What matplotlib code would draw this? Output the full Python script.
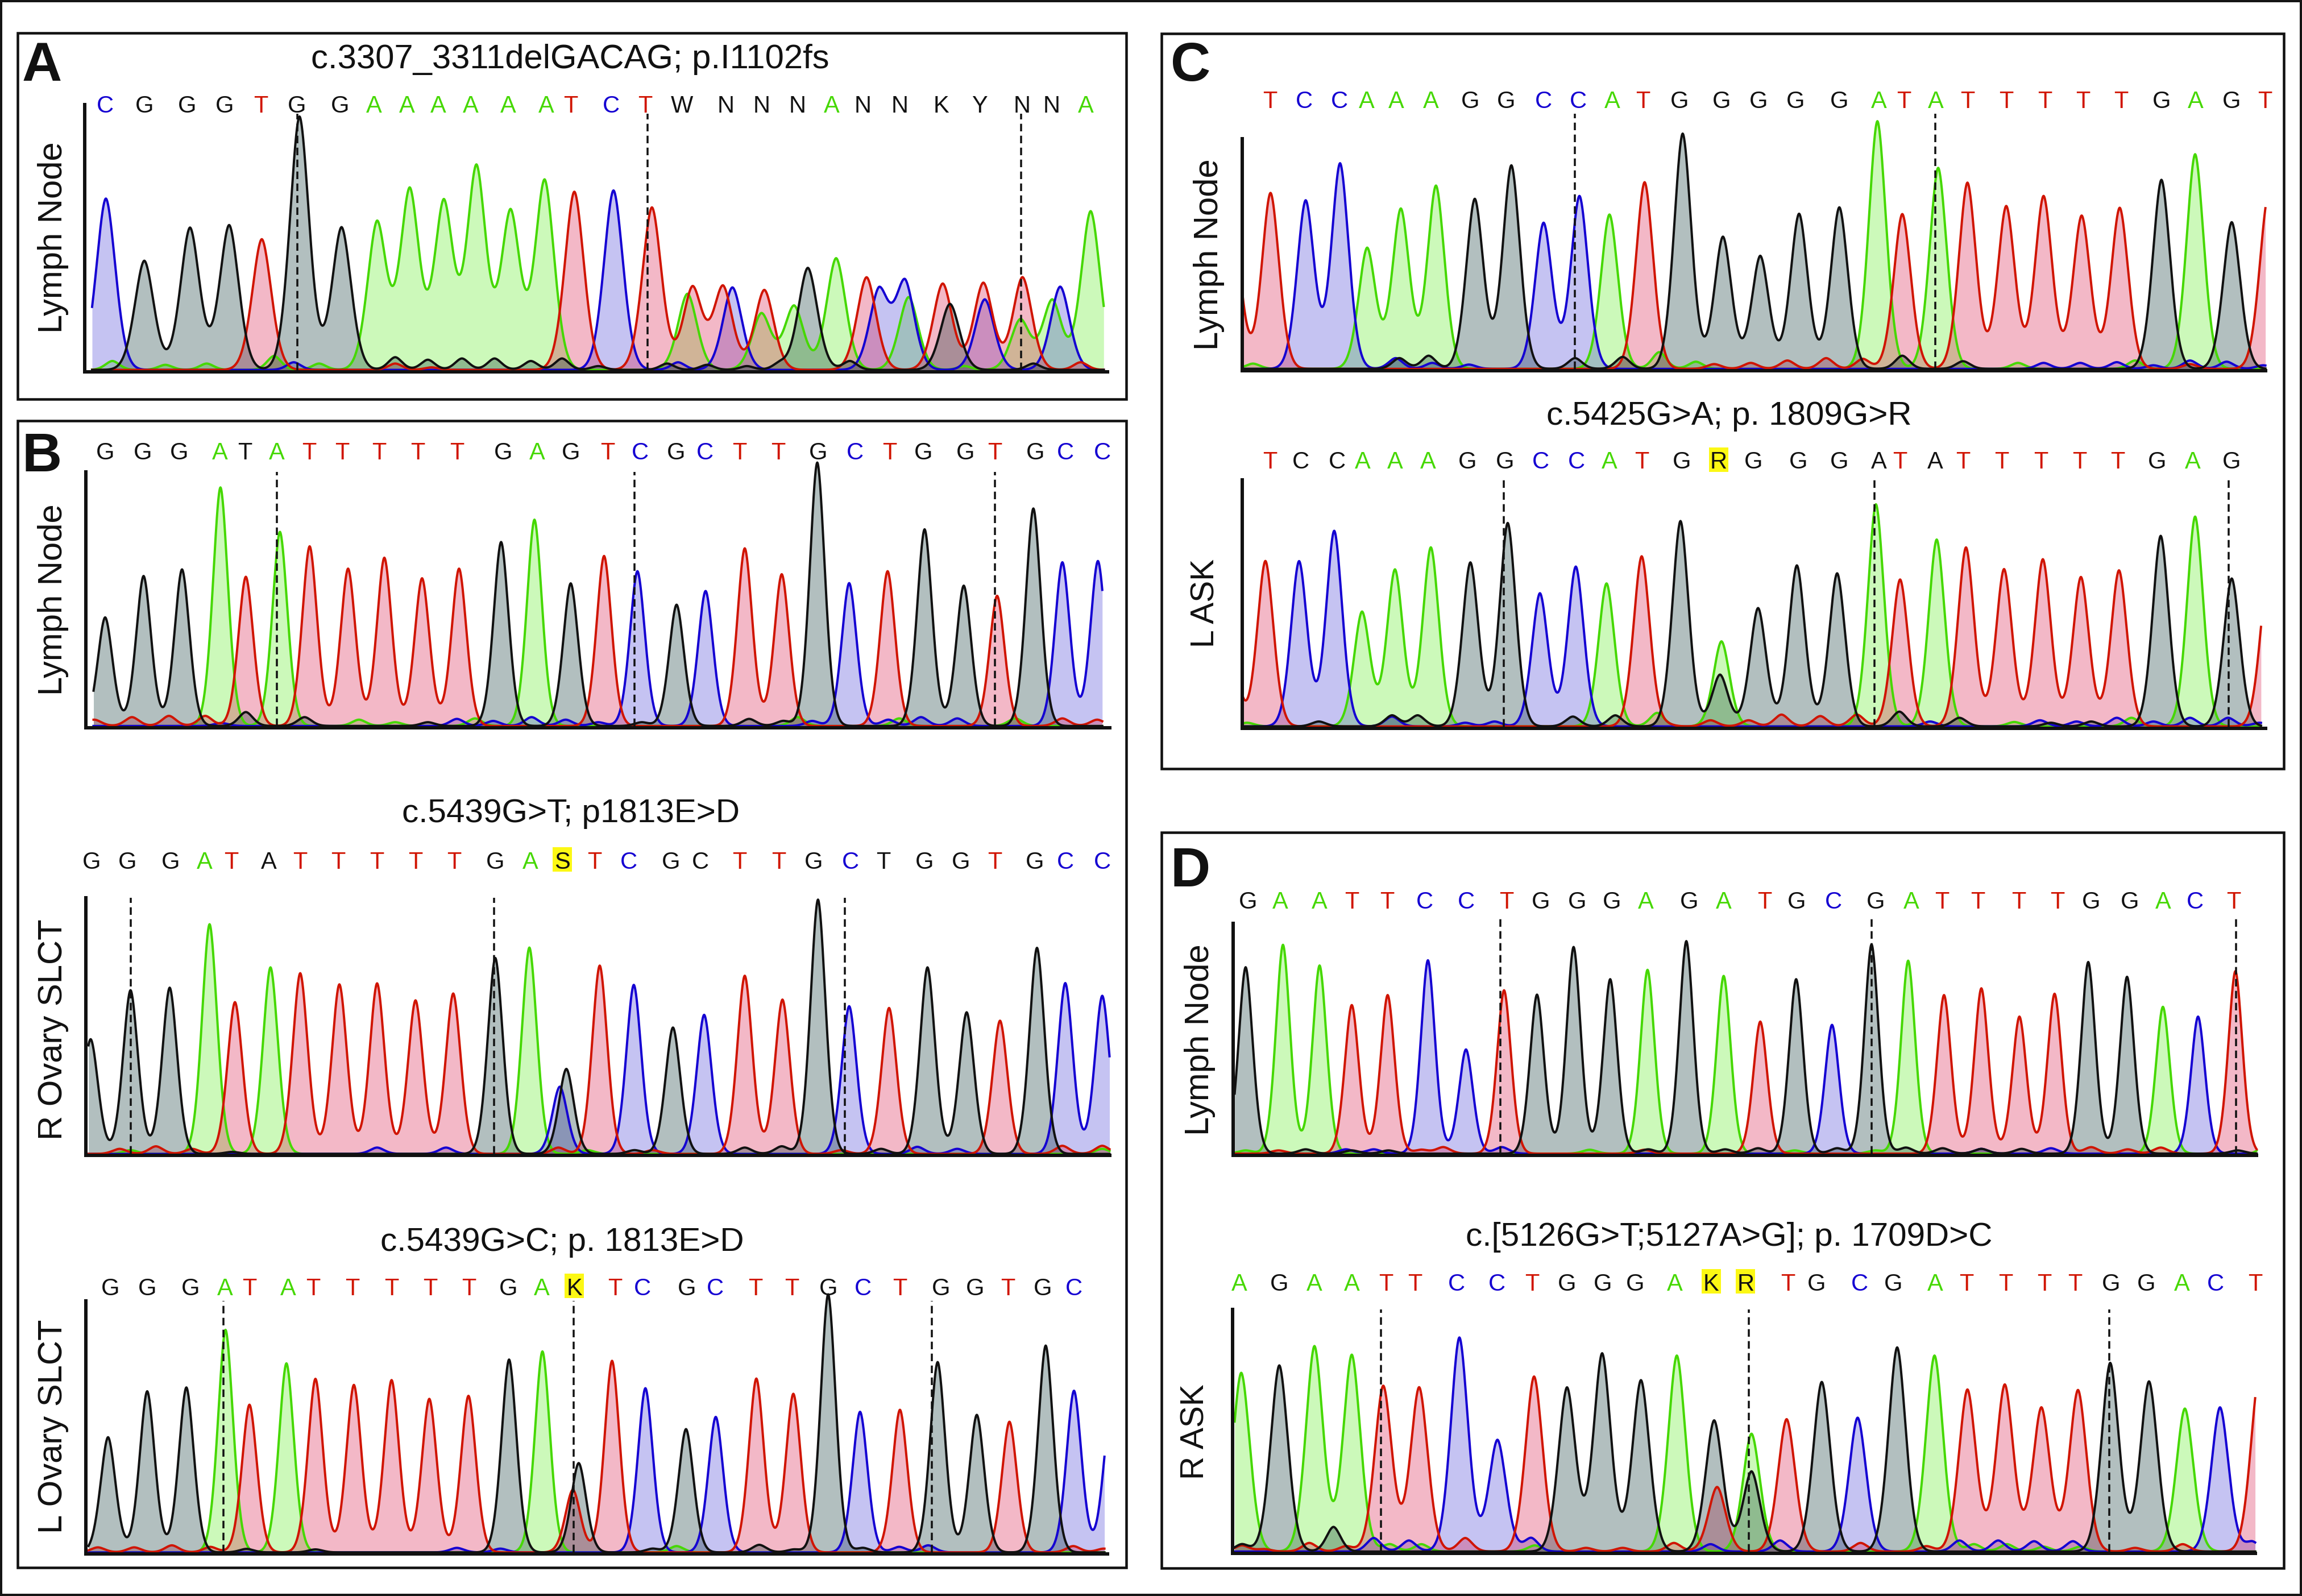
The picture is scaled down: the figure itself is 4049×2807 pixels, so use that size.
import numpy as np
import matplotlib
matplotlib.use('Agg')
import matplotlib.pyplot as plt
from matplotlib.patches import Rectangle

plt.rcParams['font.family'] = ['Liberation Sans', 'DejaVu Sans']

W, H = 4049, 2807
DPI = 100
PX = 72 / DPI

# Peak values are in scan units (x) and signal units (h)

# Panel A, lymph node
a_bases = "CGGGTGGAAAAAATCTTATCTAAGATCCATGCTTACAA"
a_x = [146, 199, 262, 316, 361, 413, 471, 520, 565, 612, 657, 704, 751, 792, 846, 899, 955, 948, 997, 1010, 1054, 1050, 1095, 1114, 1153, 1195, 1212, 1248, 1253, 1300, 1310, 1358, 1356, 1410, 1407, 1462, 1451, 1504]
a_h = [675, 430, 560, 570, 515, 998, 562, 582, 710, 662, 800, 625, 747, 702, 707, 640, 325, 300, 328, 325, 315, 222, 252, 402, 440, 365, 312, 345, 287, 340, 260, 278, 343, 365, 198, 328, 275, 625]
a_nb = "AAAAAAGGGGGGGGGGGGGTTTCC"
a_nx = [155, 228, 285, 378, 440, 1330, 545, 590, 637, 682, 732, 775, 825, 920, 975, 1030, 1075, 1172, 1425, 545, 595, 1490, 405, 935]
a_nh = [35, 20, 25, 55, 25, 15, 50, 40, 45, 45, 35, 45, 15, 25, 20, 15, 25, 35, 25, 25, 10, 30, 30, 30]
a_seq = "CGGGTGGAAAAAATCTWNNNANNKYNNA"
a_seq_x = [145, 199, 258, 310, 360, 409, 469, 516, 561, 604, 649, 701, 753, 787, 843, 890, 940, 1001, 1050, 1100, 1147, 1190, 1241, 1298, 1351, 1409, 1450, 1497]
a_cuts = [410, 893, 1408]

# Panel B, lymph node
b1_bases = "GGGATATTTTTGAGTCGCTTGCTGGTGCC"
b1_x = [145, 198, 251, 304, 339, 386, 427, 480, 530, 582, 633, 691, 737, 787, 833, 879, 933, 973, 1027, 1078, 1127, 1171, 1224, 1275, 1329, 1375, 1425, 1465, 1514]
b1_h = [428, 591, 617, 940, 588, 765, 708, 620, 663, 582, 620, 725, 813, 562, 670, 610, 478, 532, 700, 598, 1038, 563, 610, 775, 553, 513, 857, 645, 650]
b1_nb = "TTTTTTGGGGGGCCCCCCCCCCAAAAAA"
b1_nx = [182, 233, 283, 1465, 1513, 130, 339, 420, 1033, 1080, 885, 590, 305, 630, 680, 733, 780, 825, 1270, 1320, 1120, 1225, 495, 545, 655, 1100, 1240, 1400]
b1_nh = [35, 40, 40, 30, 25, 25, 55, 35, 28, 20, 15, 15, 12, 28, 20, 35, 25, 15, 35, 30, 20, 25, 25, 15, 30, 35, 30, 30]
b1_seq = "GGGATATTTTTGAGTCGCTTGCTGGTGCC"
b1_seq_x = [145, 197, 247, 303, 338, 382, 426, 472, 523, 576, 630, 694, 741, 787, 838, 883, 932, 972, 1020, 1073, 1128, 1179, 1227, 1273, 1331, 1372, 1428, 1469, 1520]
b1_cuts = [382, 875, 1372]

# Panel B, right ovary
b2_bases = "GGGATATTTTTGAGCTCGCTTGCTGGTGCC"
b2_x = [125, 180, 234, 289, 324, 373, 414, 468, 520, 573, 625, 683, 730, 781, 772, 827, 874, 928, 971, 1027, 1079, 1128, 1171, 1226, 1279, 1333, 1379, 1430, 1469, 1520]
b2_h = [452, 645, 655, 905, 598, 735, 712, 668, 672, 605, 632, 772, 813, 335, 265, 742, 666, 498, 548, 702, 608, 1002, 582, 575, 735, 558, 525, 812, 673, 623]
b2_nb = "TTTTTTTTGGGGGCCCCAAA"
b2_nx = [165, 215, 265, 770, 1465, 1520, 1160, 900, 320, 875, 1027, 1078, 1215, 520, 615, 1265, 1320, 180, 810, 1520]
b2_nh = [20, 30, 20, 25, 32, 32, 15, 15, 8, 15, 25, 30, 20, 25, 25, 28, 20, 15, 15, 20]
b2_seq = "GGGATATTTTTGASTCGCTTGCTGGTGCC"
b2_seq_x = [126, 176, 235, 282, 319, 371, 414, 466, 520, 573, 626, 683, 731, 775, 820, 867, 925, 966, 1020, 1074, 1122, 1173, 1218, 1275, 1325, 1372, 1427, 1469, 1520]
b2_cuts = [180, 681, 1165]

# Panel B, left ovary
b3_bases = "GGGATATTTTTGAGTTCGCTTGCTGGTGCC"
b3_x = [149, 203, 257, 311, 344, 395, 435, 488, 540, 592, 646, 702, 748, 798, 790, 844, 890, 946, 987, 1043, 1094, 1142, 1186, 1241, 1293, 1347, 1392, 1442, 1481, 1532]
b3_h = [454, 635, 650, 877, 582, 745, 684, 660, 679, 605, 617, 760, 792, 352, 247, 755, 647, 486, 534, 685, 625, 1017, 554, 562, 750, 542, 515, 815, 637, 560]
b3_nb = "TTTTTTGGGGGGCCCCA"
b3_nx = [135, 185, 237, 290, 1480, 1522, 340, 435, 900, 1047, 1190, 1095, 630, 690, 1240, 1280, 933]
b3_nh = [20, 20, 28, 22, 25, 15, 14, 12, 15, 30, 18, 12, 18, 15, 22, 28, 25]
b3_seq = "GGGATATTTTTGAKTCGCTTGCTGGTGC"
b3_seq_x = [152, 203, 263, 310, 344, 397, 432, 486, 540, 593, 647, 701, 747, 792, 848, 886, 947, 986, 1042, 1092, 1142, 1190, 1241, 1298, 1345, 1390, 1438, 1481]
b3_cuts = [308, 791, 1285]

# Panel C, lymph node
c1_bases = "TTCCAAAGGCCATGGGGGATATTTTTGAGT"
c1_x = [106, 159, 207, 254, 291, 337, 385, 438, 488, 532, 581, 622, 670, 722, 777, 828, 881, 936, 988, 1022, 1071, 1111, 1164, 1215, 1267, 1319, 1376, 1422, 1472, 1522]
c1_h = [650, 735, 703, 858, 505, 668, 765, 710, 850, 610, 722, 645, 780, 983, 552, 472, 648, 675, 1035, 647, 840, 778, 680, 722, 640, 673, 790, 897, 613, 723]
c1_nb = "GGGGGGCCCCCCCCCCTTTTTTAAAAA"
c1_nx = [335, 375, 575, 640, 1022, 1105, 330, 380, 430, 1215, 1265, 1315, 1365, 1415, 1465, 1515, 815, 865, 918, 968, 765, 1415, 135, 690, 740, 1180, 1340]
c1_nh = [45, 55, 45, 50, 55, 32, 45, 25, 18, 25, 25, 28, 15, 35, 30, 15, 25, 35, 45, 42, 20, 20, 22, 70, 30, 25, 35]
c1_seq = "TCCAAAGGCCATGGGGGATATTTTTGAGT"
c1_seq_x = [158, 205, 253, 290, 331, 378, 432, 481, 532, 579, 626, 668, 718, 775, 826, 876, 936, 990, 1024, 1068, 1111, 1164, 1217, 1269, 1321, 1376, 1423, 1472, 1517]
c1_cuts = [575, 1067]

# Panel C, left ASK
c2_bases = "TTCCAAAGGCCATGAGGGGATATTTTTGAGT"
c2_x = [100, 152, 198, 246, 284, 329, 378, 432, 483, 527, 576, 618, 666, 719, 775, 773, 825, 878, 933, 986, 1019, 1069, 1109, 1161, 1214, 1266, 1318, 1375, 1422, 1472, 1522]
c2_h = [500, 671, 670, 793, 465, 636, 726, 665, 825, 540, 648, 580, 690, 833, 345, 210, 480, 653, 621, 901, 596, 758, 726, 638, 678, 606, 633, 773, 851, 600, 620]
c2_nb = "GGGGGGGGGCCCCCCCCCCCTTTTTTAAAA"
c2_nx = [325, 360, 225, 572, 630, 1018, 1100, 1225, 1280, 325, 425, 465, 1060, 1210, 1260, 1315, 1365, 1415, 1467, 1510, 700, 760, 812, 857, 910, 960, 127, 687, 1175, 1335]
c2_nh = [45, 45, 20, 40, 45, 60, 35, 15, 20, 40, 15, 20, 20, 25, 20, 35, 20, 35, 35, 15, 8, 25, 25, 48, 42, 48, 15, 55, 18, 35]
c2_seq = "TCCAAAGGCCATGRGGGATATTTTTGAG"
c2_seq_x = [158, 200, 250, 285, 329, 374, 428, 479, 528, 577, 622, 666, 721, 771, 819, 880, 936, 990, 1019, 1067, 1105, 1158, 1211, 1264, 1316, 1370, 1419, 1472]
c2_cuts = [478, 984, 1468]

# Panel D, lymph node
d1_bases = "GAATTCCTGGGAGATGCGATTTTGGACTA"
d1_x = [125, 176, 226, 270, 319, 374, 426, 478, 523, 573, 623, 674, 727, 778, 828, 877, 926, 980, 1030, 1079, 1130, 1182, 1230, 1276, 1329, 1378, 1426, 1477, 1530]
d1_h = [857, 960, 865, 683, 729, 889, 479, 751, 731, 950, 802, 845, 977, 817, 607, 802, 592, 962, 887, 729, 760, 630, 735, 881, 813, 675, 630, 839, 200]
d1_nb = "GGGGGGGGGGGGTTTTTTTCCCCCAAAA"
d1_nx = [207, 320, 675, 780, 825, 933, 1027, 1077, 1130, 1185, 1480, 270, 170, 365, 395, 670, 1280, 1330, 1375, 262, 300, 475, 1225, 1130, 125, 595, 985, 875]
d1_nh = [20, 15, 20, 20, 25, 25, 28, 25, 22, 22, 15, 15, 15, 18, 30, 18, 30, 20, 28, 20, 20, 30, 25, 22, 15, 18, 15, 15]
d1_seq = "GAATTCCTGGGAGATGCGATTTTGGACT"
d1_seq_x = [128, 172, 226, 270, 318, 370, 426, 481, 528, 578, 625, 672, 731, 778, 834, 878, 928, 986, 1034, 1076, 1125, 1181, 1234, 1280, 1333, 1378, 1422, 1475]
d1_cuts = [473, 980, 1478]

# Panel D, right ASK
d2_bases = "AGAATTCCTGGGAGTAGTGCGATTTTGGACT"
d2_x = [119, 171, 219, 270, 313, 362, 417, 469, 519, 564, 612, 665, 714, 765, 769, 816, 816, 864, 912, 961, 1015, 1066, 1111, 1162, 1212, 1262, 1306, 1359, 1408, 1456, 1510]
d2_h = [725, 755, 833, 798, 672, 666, 868, 453, 710, 665, 803, 695, 795, 532, 262, 478, 325, 537, 688, 543, 828, 795, 657, 677, 584, 655, 765, 690, 580, 585, 725]
d2_nb = "GGTTTTTTTTTTTTCCCCCCCCCCAAAAAAA"
d2_nx = [245, 120, 120, 150, 212, 262, 425, 710, 965, 1055, 590, 640, 1405, 1340, 300, 348, 515, 760, 855, 1100, 1153, 1202, 1255, 1500, 322, 365, 520, 1120, 1165, 1215, 1265]
d2_nh = [100, 30, 25, 10, 35, 22, 55, 35, 35, 22, 15, 15, 30, 15, 55, 45, 55, 30, 45, 45, 45, 42, 42, 40, 30, 30, 25, 30, 30, 20, 20]
d2_seq = "AGAATTCCTGGGAKRTGCGATTTTGGACT"
d2_seq_x = [116, 171, 219, 270, 317, 356, 413, 468, 516, 564, 613, 657, 711, 761, 808, 866, 905, 964, 1010, 1067, 1110, 1163, 1216, 1258, 1307, 1355, 1404, 1450, 1504]
d2_cuts = [310, 812, 1305]

line_colors = {'A': '#45d800', 'C': '#1400d2', 'G': '#111111', 'T': '#d01400'}
fill_colors = {'A': '#58ee1c', 'C': '#413ad4', 'G': '#022d2d', 'T': '#da1648'}
text_colors = dict(line_colors)

fig = plt.figure(figsize=(W / DPI, H / DPI), dpi=DPI)

# full page axes in reference pixels, for frames and text
bg = fig.add_axes([0, 0, 1, 1])
bg.set_xlim(0, W)
bg.set_ylim(H, 0)
bg.axis('off')

bg.add_patch(Rectangle((2, 2), W - 4, H - 4, fill=False, ec='#151515', lw=4 * PX))
for x0, y0, x1, y1 in [(31, 58, 1981, 702), (31, 740, 1981, 2757), (2043, 59, 4017, 1352), (2043, 1464, 4017, 2758)]:
    bg.add_patch(Rectangle((x0, y0), x1 - x0, y1 - y0, fill=False, ec='#111111', lw=4.5 * PX))

for s, x, y in [('A', 74, 107), ('B', 74, 794), ('C', 2094, 107), ('D', 2094, 1524)]:
    bg.text(x, y, s, fontsize=70, fontweight='bold', ha='center', va='center_baseline', color='#111111')

for s, x, y, size in [('c.3307_3311delGACAG; p.I1102fs', 1003, 104, 43), ('c.5439G>T; p1813E>D', 1004, 1431, 42),
                      ('c.5439G>C; p. 1813E>D', 989, 2185, 42), ('c.5425G>A; p. 1809G>R', 3041, 732, 42),
                      ('c.[5126G>T;5127A>G]; p. 1709D>C', 3041, 2176, 42)]:
    bg.text(x, y, s, fontsize=size, ha='center', va='center', color='#111111')

for s, x, y, size in [('Lymph Node', 94, 418, 43), ('Lymph Node', 94, 1055, 43), ('R Ovary SLCT', 94, 1811, 43), ('L Ovary SLCT', 94, 2509, 43),
                      ('Lymph Node', 2127, 448, 43), ('L ASK', 2121, 1061, 41), ('Lymph Node', 2111, 1829, 43), ('R ASK', 2103, 2518, 41)]:
    bg.text(x, y, s, fontsize=size, rotation=90, ha='center', va='center', color='#111111')


def curve(grid, xs, hs, w):
    xs = np.array(xs, dtype=float)[:, None]
    hs = np.array(hs, dtype=float)[:, None]
    return (hs * np.exp(-(np.abs(grid - xs) / w) ** 1.8)).sum(axis=0)


def draw_trace(crop, fy, left, right, base, top, start, end, w, bases, xs, hs, nb, nx, nh,
               seq, seq_x, seq_y, black, yellow, cuts, cut_top):
    cx, cy = crop
    fx = (2000 if cx == 0 else 2019) / 1568
    px0 = cx + left * fx
    px1 = cx + right * fx
    py_top = cy + top * fy
    py_base = cy + base * fy
    ax = fig.add_axes([px0 / W, 1 - py_base / H, (px1 - px0) / W, (py_base - py_top) / H])
    ax.patch.set_alpha(0)
    ax.set_xlim(left, right)
    ax.set_ylim(0, base - top)
    ax.set_xticks([])
    ax.set_yticks([])
    ax.spines['top'].set_visible(False)
    ax.spines['right'].set_visible(False)
    ax.spines['left'].set_linewidth(6 * PX)
    ax.spines['bottom'].set_linewidth(6 * PX)
    ax.spines['bottom'].set_position(('outward', 3 * PX))
    ax.spines['left'].set_color('#111111')
    ax.spines['bottom'].set_color('#111111')

    grid = np.arange(start, end + 0.25, 0.5)
    for b in 'ACTG':
        pick = [i for i, c in enumerate(bases) if c == b]
        y = curve(grid, [xs[i] for i in pick], [hs[i] for i in pick], w)
        npick = [i for i, c in enumerate(nb) if c == b]
        if npick:
            y = y + curve(grid, [nx[i] for i in npick], [nh[i] for i in npick], 14)
        ax.fill_between(grid, 0, y, color=fill_colors[b], alpha=0.3, lw=0, clip_on=False, zorder=1)
        ax.plot(grid, y, color=line_colors[b], lw=4 * PX, clip_on=False, zorder=2)

    ax.vlines(cuts, 0, base - cut_top, colors='#111111', lw=3.5 * PX, linestyles=(0, (3.8, 2.2)), clip_on=False, zorder=3)

    for i, (s, x) in enumerate(zip(seq, seq_x, strict=True)):
        px = cx + x * fx
        if i in yellow:
            bg.add_patch(Rectangle((px - 17, seq_y - 22), 34, 43, fc='#fcf814', ec='none', zorder=1))
        color = '#111111' if (i in black or s not in text_colors) else text_colors[s]
        bg.text(px, seq_y, s, fontsize=30, ha='center', va='center_baseline', color=color, zorder=2)


SA = 700 / 1568
draw_trace((0, 30), SA, 117, 1527, 1390, 345, 127, 1522, 19, a_bases, a_x, a_h, a_nb, a_nx, a_nh,
           a_seq, a_seq_x, 182, [], [], a_cuts, 380)
draw_trace((0, 730), SA, 118, 1530, 1225, 225, 129, 1520, 15, b1_bases, b1_x, b1_h, b1_nb, b1_nx, b1_nh,
           b1_seq, b1_seq_x, 792, [4], [], b1_cuts, 225)
draw_trace((0, 1400), SA, 118, 1530, 1410, 402, 122, 1530, 15, b2_bases, b2_x, b2_h, b2_nb, b2_nx, b2_nh,
           b2_seq, b2_seq_x, 1512, [5, 17, 22], [13], b2_cuts, 402)
draw_trace((0, 2100), SA, 118, 1527, 1412, 422, 122, 1523, 15, b3_bases, b3_x, b3_h, b3_nb, b3_nx, b3_nh,
           b3_seq, b3_seq_x, 2262, [], [13], b3_cuts, 422)
draw_trace((2030, 30), 660 / 1568, 120, 1518, 1470, 508, 120, 1518, 17, c1_bases, c1_x, c1_h, c1_nb, c1_nx, c1_nh,
           c1_seq, c1_seq_x, 174, [], [], c1_cuts, 403)
draw_trace((2030, 680), 680 / 1568, 120, 1518, 1378, 378, 120, 1512, 16, c2_bases, c2_x, c2_h, c2_nb, c2_nx, c2_nh,
           c2_seq, c2_seq_x, 809, [1, 2, 17, 19], [13], c2_cuts, 378)
draw_trace((2030, 1460), 600 / 1568, 108, 1506, 1487, 428, 110, 1506, 14, d1_bases, d1_x, d1_h, d1_nb, d1_nx, d1_nh,
           d1_seq, d1_seq_x, 1582, [], [], d1_cuts, 398)
draw_trace((2030, 2100), 680 / 1568, 107, 1504, 1450, 468, 110, 1504, 17, d2_bases, d2_x, d2_h, d2_nb, d2_nx, d2_nh,
           d2_seq, d2_seq_x, 2254, [], [13, 14], d2_cuts, 468)

fig.savefig('out.png', dpi=DPI)
